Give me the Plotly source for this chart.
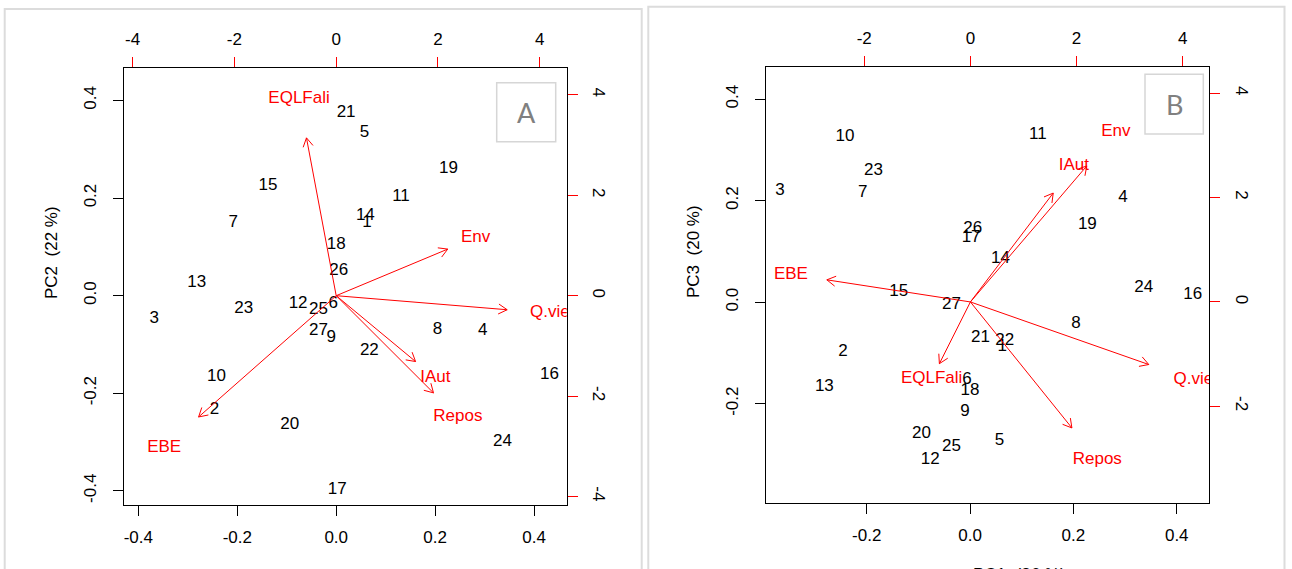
import math
import plotly.graph_objects as go

# ---------------- data ----------------
obs = [str(i) for i in range(1, 28)]
pc1 = [0.062, -0.246, -0.368, 0.296, 0.057, -0.006, -0.208, 0.205, -0.010, -0.242,
       0.131, -0.077, -0.282, 0.059, -0.138, 0.431, 0.002, 0.000, 0.227, -0.094,
       0.020, 0.067, -0.187, 0.336, -0.036, 0.005, -0.036]
pc2 = [0.149, -0.234, -0.048, -0.072, 0.334, -0.017, 0.149, -0.070, -0.087, -0.167,
       0.202, -0.017, 0.026, 0.163, 0.225, -0.163, -0.398, 0.104, 0.260, -0.265,
       0.375, -0.113, -0.027, -0.300, -0.029, 0.051, -0.072]
pc3 = [-0.088, -0.098, 0.219, 0.205, -0.272, -0.153, 0.216, -0.042, -0.215, 0.326,
       0.331, -0.310, -0.167, 0.086, 0.020, 0.014, 0.127, -0.175, 0.152, -0.259,
       -0.070, -0.075, 0.260, 0.028, -0.284, 0.145, -0.005]

variables = ["EQLFali", "Env", "Q.vie", "IAut", "Repos", "EBE"]
load1 = [-0.73, 2.74, 4.20, 1.95, 2.39, -3.38]
load2 = [3.93, 1.16, -0.35, -1.64, -2.42, -3.02]
load3 = [-1.48, 3.26, -1.50, 2.61, -3.02, 0.53]

score_ticks = [-0.4, -0.2, 0.0, 0.2, 0.4]
score_ticktext = ["-0.4", "-0.2", "0.0", "0.2", "0.4"]
load_ticks = [-4, -2, 0, 2, 4]
load_ticktext = ["-4", "-2", "0", "2", "4"]

ylabel_A = "PC2\u00a0\u00a0(22 %)"
ylabel_B = "PC3\u00a0\u00a0(20 %)"
xlabel = "PC1\u00a0\u00a0(36 %)"

# ---------------- layout geometry ----------------
W, H = 1292, 569
FONT = "Liberation Sans, Arial, sans-serif"
RED = "#ff0000"

panels = {
    "A": dict(dx=[124 / W, 566.7 / W], dy=[1 - 505 / H, 1 - 68.3 / H],
              r1=[-0.429, 0.466], r2=[-4.17, 4.53]),
    "B": dict(dx=[766 / W, 1209.3 / W], dy=[1 - 502.7 / H, 1 - 67.3 / H],
              r1=[-0.395, 0.463], r2=[-3.85, 4.50]),
}

fig = go.Figure()


def arrow_trace(lx, ly, p, xa, ya):
    # R biplot: arrows to 0.8 * loading, labels at loading
    sx = (p["dx"][1] - p["dx"][0]) * W / (p["r2"][1] - p["r2"][0])
    sy = (p["dy"][1] - p["dy"][0]) * H / (p["r2"][1] - p["r2"][0])
    xs, ys = [], []
    L = 10.0
    for a, b in zip(lx, ly):
        tx, ty = 0.8 * a, 0.8 * b
        ang = math.atan2(ty * sy, tx * sx)
        xs += [0, tx, None]
        ys += [0, ty, None]
        hx, hy = [], []
        for s in (1, -1):
            t = ang + s * math.pi / 6
            hx.append(tx - L * math.cos(t) / sx)
            hy.append(ty - L * math.sin(t) / sy)
        xs += [hx[0], tx, hx[1], None]
        ys += [hy[0], ty, hy[1], None]
    return go.Scatter(x=xs, y=ys, mode="lines", line=dict(color=RED, width=1),
                      xaxis=xa, yaxis=ya, hoverinfo="skip", showlegend=False,
                      cliponaxis=True)


def add_panel(key, ys_scores, ly, xa1, ya1, xa2, ya2):
    p = panels[key]
    fig.add_trace(go.Scatter(x=pc1, y=ys_scores, text=obs, mode="text",
                             textfont=dict(family=FONT, size=17, color="#000000"),
                             textposition="middle center", xaxis=xa1, yaxis=ya1,
                             showlegend=False, cliponaxis=True))
    fig.add_trace(arrow_trace(load1, ly, p, xa2, ya2))
    fig.add_trace(go.Scatter(x=load1, y=ly, text=variables, mode="text",
                             textfont=dict(family=FONT, size=17, color=RED),
                             textposition="middle center", xaxis=xa2, yaxis=ya2,
                             showlegend=False, cliponaxis=True))


add_panel("A", pc2, load2, "x", "y", "x2", "y2")
add_panel("B", pc3, load3, "x3", "y3", "x4", "y4")


def axis(domain, rng, vals, text, side, tickcolor, anchor, overlaying=None, angle=0, standoff=12):
    d = dict(domain=domain, range=rng, tickvals=vals, ticktext=text, side=side,
             showgrid=False, zeroline=False, showline=True, linecolor="#000000",
             linewidth=1, ticks="outside", ticklen=10, tickwidth=1, tickcolor=tickcolor,
             tickfont=dict(family=FONT, size=17, color="#000000"), anchor=anchor,
             tickangle=angle, fixedrange=True, ticklabelstandoff=standoff)
    if overlaying:
        d["overlaying"] = overlaying
    return d


pA, pB = panels["A"], panels["B"]
fig.update_layout(
    width=W, height=H, margin=dict(l=0, r=0, t=0, b=0),
    paper_bgcolor="white", plot_bgcolor="white", showlegend=False,
    xaxis=axis(pA["dx"], pA["r1"], score_ticks, score_ticktext, "bottom", "#000000", "y", standoff=7),
    yaxis=axis(pA["dy"], pA["r1"], score_ticks, score_ticktext, "left", "#000000", "x", angle=-90, standoff=10),
    xaxis2=axis(pA["dx"], pA["r2"], load_ticks, load_ticktext, "top", RED, "y", overlaying="x", standoff=6),
    yaxis2=axis(pA["dy"], pA["r2"], load_ticks, load_ticktext, "right", RED, "x", overlaying="y", angle=90, standoff=9),
    xaxis3=axis(pB["dx"], pB["r1"], score_ticks, score_ticktext, "bottom", "#000000", "y3", standoff=7),
    yaxis3=axis(pB["dy"], pB["r1"], score_ticks, score_ticktext, "left", "#000000", "x3", angle=-90, standoff=10),
    xaxis4=axis(pB["dx"], pB["r2"], load_ticks, load_ticktext, "top", RED, "y3", overlaying="x3", standoff=6),
    yaxis4=axis(pB["dy"], pB["r2"], load_ticks, load_ticktext, "right", RED, "x3", overlaying="y3", angle=90, standoff=9),
)

# panel frames
shapes = [
    dict(type="rect", xref="paper", yref="paper", x0=4.7 / W, x1=641.7 / W, y0=-0.05, y1=1 - 9 / H,
         line=dict(color="#dcdcdc", width=2), layer="below"),
    dict(type="rect", xref="paper", yref="paper", x0=648.3 / W, x1=1284.5 / W, y0=-0.05, y1=1 - 6.7 / H,
         line=dict(color="#dcdcdc", width=2), layer="below"),
    dict(type="rect", xref="paper", yref="paper", x0=496.7 / W, x1=555.7 / W, y0=1 - 141.7 / H, y1=1 - 82.7 / H,
         line=dict(color="#d6d6d6", width=1.5), fillcolor="white", layer="above"),
    dict(type="rect", xref="paper", yref="paper", x0=1145 / W, x1=1203.3 / W, y0=1 - 134 / H, y1=1 - 74.3 / H,
         line=dict(color="#d6d6d6", width=1.5), fillcolor="white", layer="above"),
]
fig.update_layout(shapes=shapes)


def note(text, px, py, size, color, family=FONT, angle=0):
    return dict(text=text, x=px / W, y=1 - py / H, xref="paper", yref="paper", showarrow=False,
                xanchor="center", yanchor="middle", textangle=angle,
                font=dict(family=family, size=size, color=color))


annotations = [
    note("A", 526.2, 112.2, 27, "#808080", family="Lato, Open Sans, sans-serif"),
    note("B", 1174.2, 104.2, 27, "#808080", family="Lato, Open Sans, sans-serif"),
    note(ylabel_A, 51, 253, 17, "#000000", angle=-90),
    note(ylabel_B, 693, 252, 17, "#000000", angle=-90),
    note(xlabel, 377, 583, 17, "#000000"),
    note(xlabel, 1019, 574, 17, "#000000"),
]
fig.update_layout(annotations=annotations)

fig.write_html("out.html", config={"displayModeBar": False},
               post_script="document.body.style.margin='0';document.body.style.overflow='hidden';")
